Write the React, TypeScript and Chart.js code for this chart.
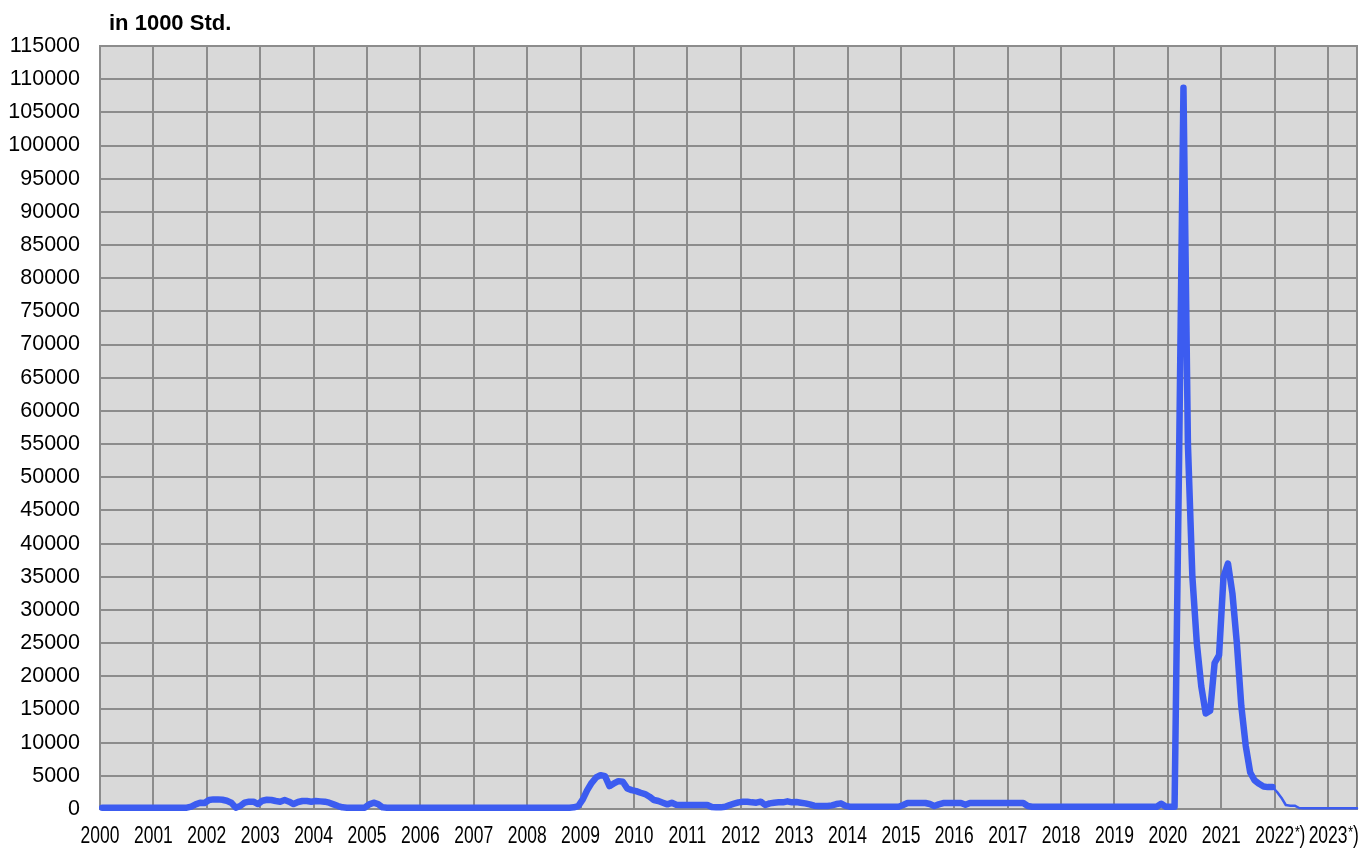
import React, { useEffect, useRef } from "react";
import { Chart, registerables } from "chart.js";

Chart.register(...registerables);

// ---- data -------------------------------------------------------------
const chartTitle = "in 1000 Std.";

const yearLabels = [
  "2000", "2001", "2002", "2003", "2004", "2005", "2006", "2007",
  "2008", "2009", "2010", "2011", "2012", "2013", "2014", "2015",
  "2016", "2017", "2018", "2019", "2020", "2021", "2022", "2023",
];
// years whose label carries the footnote mark "*)"
const footnoteYears = ["2022", "2023"];

const yTickValues = [
  0, 5000, 10000, 15000, 20000, 25000, 30000, 35000, 40000, 45000, 50000,
  55000, 60000, 65000, 70000, 75000, 80000, 85000, 90000, 95000, 100000,
  105000, 110000, 115000,
];

// monthly values (in 1000 hours), Jan 2000 .. Dec 2021
const actualHours = [
  /* 2000 */ 200, 200, 200, 200, 200, 200, 200, 200, 200, 200, 200, 200,
  /* 2001 */ 200, 200, 200, 200, 200, 200, 200, 200, 350, 700, 950, 900,
  /* 2002 */ 1350, 1450, 1450, 1400, 1250, 950, 200, 450, 950, 1100, 1100, 750,
  /* 2003 */ 1250, 1400, 1350, 1200, 1100, 1350, 1100, 750, 1050, 1200, 1200, 1100,
  /* 2004 */ 1200, 1150, 1100, 950, 700, 450, 250, 200, 200, 200, 200, 200,
  /* 2005 */ 700, 950, 750, 250, 200, 200, 200, 200, 200, 200, 200, 200,
  /* 2006 */ 200, 200, 200, 200, 200, 200, 200, 200, 200, 200, 200, 200,
  /* 2007 */ 200, 200, 200, 200, 200, 200, 200, 200, 200, 200, 200, 200,
  /* 2008 */ 200, 200, 200, 200, 200, 200, 200, 200, 200, 200, 250, 450,
  /* 2009 */ 1450, 2850, 3950, 4750, 5100, 4950, 3450, 3850, 4200, 4100, 3100, 2850,
  /* 2010 */ 2700, 2450, 2250, 1850, 1350, 1200, 950, 700, 950, 650, 600, 600,
  /* 2011 */ 600, 600, 600, 600, 600, 300, 250, 250, 350, 600, 800, 1000,
  /* 2012 */ 1100, 1100, 1000, 950, 1100, 600, 850, 950, 1000, 1000, 1150, 1000,
  /* 2013 */ 1050, 950, 850, 700, 500, 450, 450, 450, 550, 750, 850, 500,
  /* 2014 */ 350, 350, 350, 350, 350, 350, 350, 350, 350, 350, 350, 350,
  /* 2015 */ 600, 900, 900, 900, 900, 900, 750, 450, 700, 900, 900, 900,
  /* 2016 */ 900, 900, 650, 900, 900, 900, 900, 900, 900, 900, 900, 900,
  /* 2017 */ 900, 900, 900, 900, 450, 350, 350, 350, 350, 350, 350, 350,
  /* 2018 */ 350, 350, 350, 350, 350, 350, 350, 350, 350, 350, 350, 350,
  /* 2019 */ 350, 350, 350, 350, 350, 350, 350, 350, 350, 350, 800, 350,
  /* 2020 */ 350, 350, 52000, 108700, 55000, 35000, 25000, 18500, 14400, 14800, 22000, 23200,
  /* 2021 */ 35000, 37000, 32500, 25000, 15500, 9500, 5500, 4300, 3800, 3400, 3300, 3300,
];

// estimate / forecast, Dec 2021 .. Jul 2023
const forecastStartMonth = 263; // Dec 2021 (months since Jan 2000)
const forecastHours = [
  /* Dec 2021 */ 3300,
  /* 2022 */ 2600, 1700, 600, 500, 500, 150, 100, 100, 100, 100, 100, 100,
  /* 2023 */ 100, 100, 100, 100, 100, 100, 100,
];

// ---- styles -----------------------------------------------------------
const LINE_COLOR = "rgb(60, 92, 240)";
const GRID_COLOR = "#8c8c8c";
const PLOT_BG = "#d9d9d9";
const FONT = '"Liberation Sans", Arial, sans-serif';
const X_FONT_SIZE = 23;
const X_SQUEEZE = 0.76; // reference uses a narrow face for the year labels

export default function App() {
  const canvasRef = useRef<HTMLCanvasElement>(null);

  useEffect(() => {
    const canvas = canvasRef.current;
    if (!canvas) return;

    const actualPoints = actualHours.map((v, i) => ({ x: i + 0.5, y: v }));
    const forecastPoints = forecastHours.map((v, k) => ({
      x: forecastStartMonth + k + 0.5,
      y: v,
    }));
    const lastX = forecastStartMonth + forecastHours.length - 1 + 0.5;

    const bgPlugin = {
      id: "plotBg",
      beforeDraw(chart: any) {
        const { ctx, chartArea: a } = chart;
        ctx.save();
        ctx.fillStyle = PLOT_BG;
        ctx.fillRect(a.left, a.top, a.right - a.left, a.bottom - a.top);
        ctx.restore();
      },
      beforeDatasetsDraw(chart: any) {
        const { ctx, chartArea: a } = chart;
        ctx.save();
        ctx.strokeStyle = GRID_COLOR;
        ctx.lineWidth = 2;
        ctx.strokeRect(a.left, a.top, a.right - a.left, a.bottom - a.top);
        ctx.restore();
      },
    };

    const textPlugin = {
      id: "extraText",
      afterDraw(chart: any) {
        const { ctx, chartArea: a } = chart;
        ctx.save();
        ctx.fillStyle = "#000";
        ctx.textBaseline = "alphabetic";
        ctx.textAlign = "left";
        ctx.font = `bold 22px ${FONT}`;
        ctx.fillText(chartTitle, a.left + 9, 30);

        // year labels under the x axis, placed by the x scale
        const xs = chart.scales.x;
        const baseY = a.bottom + 34;
        xs.ticks.forEach((t: any) => {
          const label = yearLabels[Math.round(t.value / 12)];
          const px = xs.getPixelForValue(t.value);
          ctx.save();
          ctx.translate(px, baseY);
          ctx.scale(X_SQUEEZE, 1);
          ctx.font = `${X_FONT_SIZE}px ${FONT}`;
          ctx.textAlign = "center";
          ctx.fillText(label, 0, 0);
          if (footnoteYears.includes(label)) {
            const w = ctx.measureText(label).width;
            let x = w / 2 + 1;
            ctx.textAlign = "left";
            ctx.font = `16px ${FONT}`;
            ctx.fillText("*", x, -5);
            x += ctx.measureText("*").width;
            ctx.font = `${X_FONT_SIZE}px ${FONT}`;
            ctx.fillText(")", x, 0);
          }
          ctx.restore();
        });
        ctx.restore();
      },
    };

    const chart = new Chart(canvas, {
      type: "line",
      data: {
        datasets: [
          {
            data: actualPoints,
            borderColor: LINE_COLOR,
            borderWidth: 6.5,
            pointRadius: 0,
            tension: 0,
            fill: false,
            borderJoinStyle: "round",
            borderCapStyle: "round",
            clip: 6,
          },
          {
            data: forecastPoints,
            borderColor: LINE_COLOR,
            borderWidth: 2.5,
            pointRadius: 0,
            tension: 0,
            fill: false,
            borderJoinStyle: "round",
            borderCapStyle: "round",
            clip: 6,
          },
        ],
      },
      options: {
        responsive: false,
        animation: false,
        events: [],
        layout: { padding: { top: 46, right: 3, bottom: 0, left: 0 } },
        plugins: {
          legend: { display: false },
          tooltip: { enabled: false },
          title: { display: false },
        },
        scales: {
          x: {
            type: "linear",
            min: 0,
            max: lastX,
            afterBuildTicks: (s: any) => {
              s.ticks = yearLabels.map((_, k) => ({ value: k * 12 }));
            },
            afterFit: (s: any) => {
              s.height = 41;
            },
            ticks: { display: false },
            grid: { color: GRID_COLOR, lineWidth: 2, drawTicks: false },
            border: { display: true, color: GRID_COLOR, width: 2 },
          },
          y: {
            type: "linear",
            min: 0,
            max: 115000,
            afterBuildTicks: (s: any) => {
              s.ticks = yTickValues.map((v) => ({ value: v }));
            },
            afterFit: (s: any) => {
              s.width = 100;
            },
            ticks: {
              padding: 20,
              color: "#000",
              font: { family: FONT, size: 21.5 },
              callback: (v: any) => String(v),
            },
            grid: { color: GRID_COLOR, lineWidth: 2, drawTicks: false },
            border: { display: true, color: GRID_COLOR, width: 2 },
          },
        },
      },
      plugins: [bgPlugin, textPlugin],
    } as any);

    return () => chart.destroy();
  }, []);

  return (
    <div style={{ position: "absolute", left: 0, top: 0, width: 1360, height: 850 }}>
      <canvas
        ref={canvasRef}
        width={1360}
        height={850}
        style={{ display: "block", width: 1360, height: 850 }}
      />
    </div>
  );
}
